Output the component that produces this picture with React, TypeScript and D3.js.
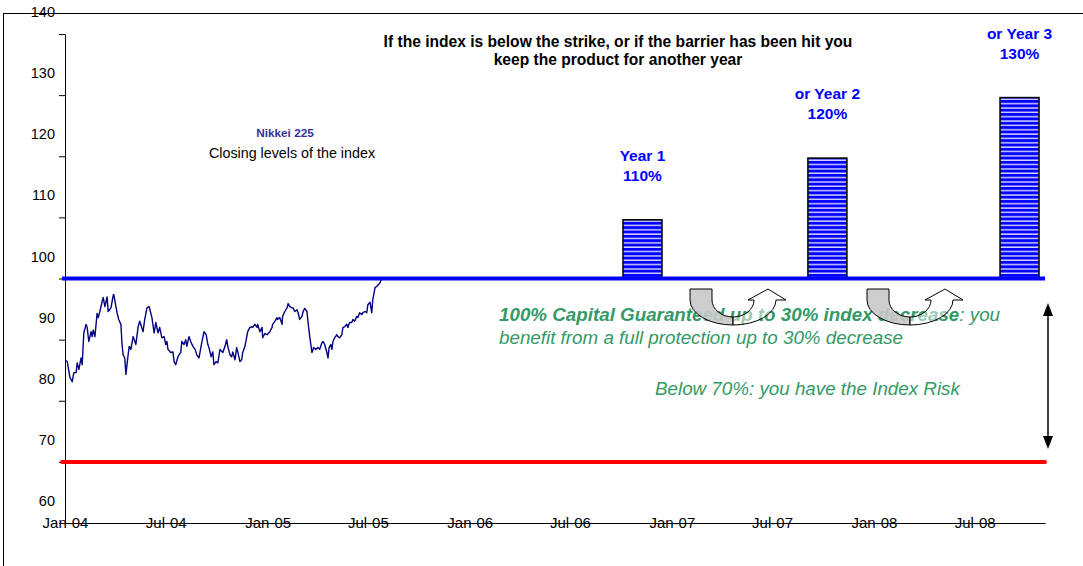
import { useEffect, useRef } from "react";
import * as d3 from "d3";

// Nikkei 225 closes, rebased so the strike (last close) = 100
const nikkei: [string, number][] = [
  ["2004-01-03", 86.6], ["2004-01-05", 86.4], ["2004-01-10", 83.8], ["2004-01-14", 83.1],
  ["2004-01-17", 84.6], ["2004-01-21", 84.6], ["2004-01-23", 86.2], ["2004-01-26", 85.1],
  ["2004-01-30", 87.0], ["2004-02-01", 85.9], ["2004-02-04", 91.1], ["2004-02-08", 92.5],
  ["2004-02-10", 92.0], ["2004-02-13", 89.7], ["2004-02-17", 91.3], ["2004-02-19", 90.5],
  ["2004-02-21", 91.6], ["2004-02-24", 90.5], ["2004-02-28", 94.3], ["2004-03-01", 93.6],
  ["2004-03-04", 94.6], ["2004-03-08", 96.2], ["2004-03-10", 96.9], ["2004-03-13", 95.4],
  ["2004-03-17", 97.0], ["2004-03-19", 94.6], ["2004-03-24", 95.2], ["2004-03-28", 97.2],
  ["2004-03-29", 97.4], ["2004-04-04", 94.4], ["2004-04-07", 93.3], ["2004-04-11", 92.5],
  ["2004-04-13", 89.2], ["2004-04-15", 87.5], ["2004-04-18", 87.0], ["2004-04-20", 84.3],
  ["2004-04-24", 87.5], ["2004-04-26", 88.9], ["2004-04-29", 88.4], ["2004-05-03", 90.5],
  ["2004-05-05", 90.0], ["2004-05-08", 89.2], ["2004-05-12", 92.1], ["2004-05-15", 93.0],
  ["2004-05-21", 91.3], ["2004-05-24", 93.3], ["2004-05-28", 95.2], ["2004-06-01", 95.4],
  ["2004-06-06", 93.6], ["2004-06-10", 91.1], ["2004-06-13", 92.8], ["2004-06-17", 91.1],
  ["2004-06-20", 92.0], ["2004-06-24", 90.3], ["2004-06-28", 90.5], ["2004-07-01", 89.2],
  ["2004-07-03", 89.7], ["2004-07-05", 88.4], ["2004-07-10", 87.9], ["2004-07-14", 88.0],
  ["2004-07-16", 86.4], ["2004-07-19", 85.9], ["2004-07-23", 87.2], ["2004-07-28", 87.9],
  ["2004-07-30", 89.7], ["2004-08-03", 89.2], ["2004-08-06", 90.0], ["2004-08-08", 88.9],
  ["2004-08-12", 90.5], ["2004-08-15", 89.7], ["2004-08-19", 88.9], ["2004-08-23", 88.4],
  ["2004-08-26", 87.5], ["2004-08-30", 87.0], ["2004-09-04", 89.5], ["2004-09-08", 91.3],
  ["2004-09-12", 90.8], ["2004-09-15", 89.2], ["2004-09-17", 88.7], ["2004-09-21", 87.2],
  ["2004-09-24", 88.0], ["2004-09-26", 85.9], ["2004-09-30", 86.4], ["2004-10-03", 86.2],
  ["2004-10-07", 88.4], ["2004-10-12", 87.9], ["2004-10-16", 88.9], ["2004-10-19", 90.0],
  ["2004-10-21", 88.9], ["2004-10-25", 87.5], ["2004-10-28", 87.2], ["2004-10-30", 88.0],
  ["2004-11-03", 86.7], ["2004-11-06", 88.7], ["2004-11-08", 88.0], ["2004-11-12", 86.4],
  ["2004-11-15", 86.7], ["2004-11-17", 87.9], ["2004-11-21", 88.9], ["2004-11-25", 90.8],
  ["2004-11-26", 91.3], ["2004-11-30", 92.0], ["2004-12-04", 92.1], ["2004-12-05", 92.0],
  ["2004-12-09", 92.5], ["2004-12-13", 92.0], ["2004-12-14", 92.5], ["2004-12-18", 91.3],
  ["2004-12-22", 92.0], ["2004-12-23", 90.3], ["2004-12-27", 91.0], ["2004-12-31", 90.8],
  ["2005-01-05", 91.3], ["2005-01-09", 92.0], ["2005-01-10", 92.5], ["2005-01-14", 93.0],
  ["2005-01-18", 93.6], ["2005-01-19", 93.3], ["2005-01-23", 93.6], ["2005-01-27", 92.5],
  ["2005-01-28", 93.8], ["2005-02-01", 94.6], ["2005-02-05", 95.2], ["2005-02-07", 95.9],
  ["2005-02-10", 95.4], ["2005-02-14", 95.2], ["2005-02-16", 95.2], ["2005-02-19", 94.6],
  ["2005-02-23", 94.9], ["2005-02-25", 94.4], ["2005-02-28", 93.3], ["2005-03-04", 93.8],
  ["2005-03-06", 94.6], ["2005-03-09", 95.1], ["2005-03-13", 94.6], ["2005-03-15", 92.8],
  ["2005-03-18", 90.5], ["2005-03-22", 87.9], ["2005-03-24", 88.4], ["2005-03-25", 88.7],
  ["2005-03-29", 88.4], ["2005-04-02", 88.7], ["2005-04-05", 88.4], ["2005-04-09", 89.5],
  ["2005-04-11", 89.7], ["2005-04-14", 89.2], ["2005-04-18", 87.9], ["2005-04-20", 87.0],
  ["2005-04-22", 88.7], ["2005-04-25", 89.2], ["2005-04-27", 88.4], ["2005-04-29", 89.7],
  ["2005-05-02", 90.3], ["2005-05-06", 90.8], ["2005-05-08", 90.5], ["2005-05-11", 90.3],
  ["2005-05-15", 90.8], ["2005-05-17", 92.0], ["2005-05-20", 92.1], ["2005-05-24", 92.5],
  ["2005-05-26", 92.0], ["2005-05-29", 92.8], ["2005-06-02", 92.8], ["2005-06-04", 93.3],
  ["2005-06-07", 93.0], ["2005-06-11", 93.8], ["2005-06-13", 93.6], ["2005-06-16", 94.4],
  ["2005-06-20", 94.1], ["2005-06-22", 94.4], ["2005-06-26", 94.6], ["2005-06-29", 94.4],
  ["2005-07-01", 95.7], ["2005-07-05", 96.1], ["2005-07-08", 94.4], ["2005-07-10", 96.6],
  ["2005-07-14", 98.5], ["2005-07-17", 98.7], ["2005-07-19", 98.9], ["2005-07-23", 99.3],
  ["2005-07-26", 100.0],
];

const yTicks = [60, 70, 80, 90, 100, 110, 120, 130, 140];
const xTicks = [
  "2004-01-01", "2004-07-01", "2005-01-01", "2005-07-01", "2006-01-01",
  "2006-07-01", "2007-01-01", "2007-07-01", "2008-01-01", "2008-07-01",
];
const strikeLevel = 100;
const barrierLevel = 70;
const couponDates = ["2006-11-09", "2007-10-09", "2008-09-20"];
const couponValues = [109.6, 119.7, 129.6];
const couponLabels = [["Year 1", "110%"], ["or Year 2", "120%"], ["or Year 3", "130%"]];

const font = "'Liberation Sans', Arial, sans-serif";
const green = "#339966";

const App: React.FC = () => {
  const svgRef = useRef<any>();
  useEffect(() => {
    const svg = d3.select(svgRef.current);
    svg.selectAll("*").remove();
    const parse = d3.timeParse("%Y-%m-%d");

    const x = d3.scaleTime()
      .domain([parse("2004-01-01")!, parse("2008-11-05")!])
      .range([65, 1045]);
    const y = d3.scaleLinear().domain([60, 140]).range([523, 34]);

    // frame
    svg.append("rect")
      .attr("x", 3.5).attr("y", 13.5).attr("width", 1100).attr("height", 600)
      .attr("fill", "#fff").attr("stroke", "#000");

    // stripe pattern for bars
    const pat = svg.append("defs").append("pattern")
      .attr("id", "stripes").attr("patternUnits", "userSpaceOnUse")
      .attr("width", 10).attr("height", 4.35);
    pat.append("rect").attr("width", 10).attr("height", 4.35).attr("fill", "#0000ff");
    pat.append("rect").attr("y", 3).attr("width", 10).attr("height", 1.2).attr("fill", "#fff");

    // Y axis (ticks only), labels drawn a bit higher like the original
    const yAxis = svg.append("g")
      .attr("transform", "translate(65,0)")
      .call(d3.axisLeft(y).tickValues(yTicks).tickSize(6).tickSizeOuter(0).tickFormat(() => ""));
    yAxis.selectAll("path, line").attr("stroke", "#000");

    svg.append("g").selectAll("text")
      .data(yTicks).enter()
      .append("text")
      .attr("x", 55)
      .attr("y", d => y(d) - 22 + 5)
      .attr("text-anchor", "end")
      .attr("font-family", font).attr("font-size", 14.5)
      .text(d => d);

    // X axis
    const xAxis = svg.append("g")
      .attr("transform", "translate(0," + y(60) + ")")
      .call(d3.axisBottom(x)
        .tickValues(xTicks.map(d => parse(d)!))
        .tickSize(0).tickSizeOuter(0)
        .tickFormat(d => d3.timeFormat("%b-%y")(d as Date)));
    xAxis.selectAll("text")
      .attr("y", 0).attr("dy", "0.35em")
      .attr("font-family", font).attr("font-size", 15).attr("fill", "#000");
    xAxis.select(".domain").attr("stroke", "#000").raise();

    // Nikkei line
    const line = d3.line<[string, number]>()
      .x(d => x(parse(d[0])!))
      .y(d => y(d[1]));
    svg.append("path")
      .datum(nikkei)
      .attr("d", line)
      .attr("fill", "none")
      .attr("stroke", "#000080")
      .attr("stroke-width", 1.4)
      .attr("stroke-linejoin", "round");

    // coupon bars
    const barW = 39;
    svg.append("g").selectAll("rect")
      .data(couponValues).enter()
      .append("rect")
      .attr("x", (d, i) => x(parse(couponDates[i])!) - barW / 2)
      .attr("y", d => y(d))
      .attr("width", barW)
      .attr("height", d => y(strikeLevel) - y(d))
      .attr("fill", "url(#stripes)")
      .attr("stroke", "#000")
      .attr("stroke-width", 1.5);

    // bar labels
    couponLabels.forEach((lab, i) => {
      const t = svg.append("text")
        .attr("text-anchor", "middle")
        .attr("font-family", font).attr("font-size", 15.5).attr("font-weight", "bold")
        .attr("fill", "#0000ff");
      lab.forEach((s, j) => {
        t.append("tspan")
          .attr("x", x(parse(couponDates[i])!))
          .attr("y", y(couponValues[i]) - 59 + j * 20)
          .text(s);
      });
    });

    // strike and barrier levels
    svg.append("line")
      .attr("x1", 62).attr("x2", 1045)
      .attr("y1", y(strikeLevel)).attr("y2", y(strikeLevel))
      .attr("stroke", "#0000ff").attr("stroke-width", 4);
    svg.append("line")
      .attr("x1", 62).attr("x2", 1045)
      .attr("y1", y(barrierLevel)).attr("y2", y(barrierLevel))
      .attr("stroke", "#ff0000").attr("stroke-width", 4).attr("stroke-linecap", "round");

    // titles
    const title = svg.append("text")
      .attr("text-anchor", "middle")
      .attr("font-family", font).attr("font-size", 15.6).attr("font-weight", "bold");
    title.append("tspan").attr("x", 618).attr("y", 47)
      .text("If the index is below the strike, or if the barrier has been hit you");
    title.append("tspan").attr("x", 618).attr("y", 65)
      .text("keep the product for another year");

    svg.append("text")
      .attr("x", 285).attr("y", 137).attr("text-anchor", "middle")
      .attr("font-family", font).attr("font-size", 11.8).attr("font-weight", "bold")
      .attr("fill", "#333399").text("Nikkei 225");
    svg.append("text")
      .attr("x", 292).attr("y", 158).attr("text-anchor", "middle")
      .attr("font-family", font).attr("font-size", 14.3)
      .text("Closing levels of the index");

    // green notes
    const gSize = 18.8;
    const g1 = svg.append("text")
      .attr("x", 499).attr("y", 321)
      .attr("font-family", font).attr("font-size", gSize).attr("font-style", "italic")
      .attr("fill", green);
    g1.append("tspan").attr("font-weight", "bold").text("100% Capital Guaranteed up to 30% index decrease");
    g1.append("tspan").text(": you");
    svg.append("text")
      .attr("x", 499).attr("y", 344)
      .attr("font-family", font).attr("font-size", gSize).attr("font-style", "italic")
      .attr("fill", green).text("benefit from a full protection up to 30% decrease");
    svg.append("text")
      .attr("x", 655).attr("y", 395)
      .attr("font-family", font).attr("font-size", gSize).attr("font-style", "italic")
      .attr("fill", green).text("Below 70%: you have the Index Risk");

    // U-turn arrows between the observation dates
    const uturn = (cx: number) => {
      const top = 289, cy = 300, Rx = 43, rx = 21, Ry = 25, ry = 17;
      const gray = `M${cx - Rx},${top} L${cx - Rx},${cy} A${Rx},${Ry} 0 0 0 ${cx},${cy + Ry} ` +
        `L${cx},${cy + ry} A${rx},${ry} 0 0 1 ${cx - rx},${cy} L${cx - rx},${top} Z`;
      const white = `M${cx},${cy + Ry} A${Rx},${Ry} 0 0 0 ${cx + Rx},${cy} L${cx + Rx + 10},${cy} ` +
        `L${cx + (Rx + rx) / 2 + 3},${top} L${cx + rx - 6},${cy} L${cx + rx},${cy} ` +
        `A${rx},${ry} 0 0 1 ${cx},${cy + ry} Z`;
      svg.append("path").attr("d", gray)
        .attr("fill", "#c8c8c8").attr("fill-opacity", 0.9)
        .attr("stroke", "#000").attr("stroke-width", 1);
      svg.append("path").attr("d", white)
        .attr("fill", "#fff").attr("fill-opacity", 0.5)
        .attr("stroke", "#000").attr("stroke-width", 1);
    };
    uturn(733);
    uturn(910);

    // double-headed arrow for the protection range
    const ax = 1048;
    svg.append("line")
      .attr("x1", ax).attr("x2", ax).attr("y1", 312).attr("y2", 440)
      .attr("stroke", "#000").attr("stroke-width", 1.5);
    svg.append("path").attr("d", `M${ax},303 L${ax - 5},316 L${ax + 5},316 Z`).attr("fill", "#000");
    svg.append("path").attr("d", `M${ax},449 L${ax - 5},436 L${ax + 5},436 Z`).attr("fill", "#000");
  }, []);

  return (
    <svg ref={svgRef} width={1083} height={566}
      style={{ position: "absolute", left: 0, top: 0, background: "#fff" }} />
  );
};

export default App;
